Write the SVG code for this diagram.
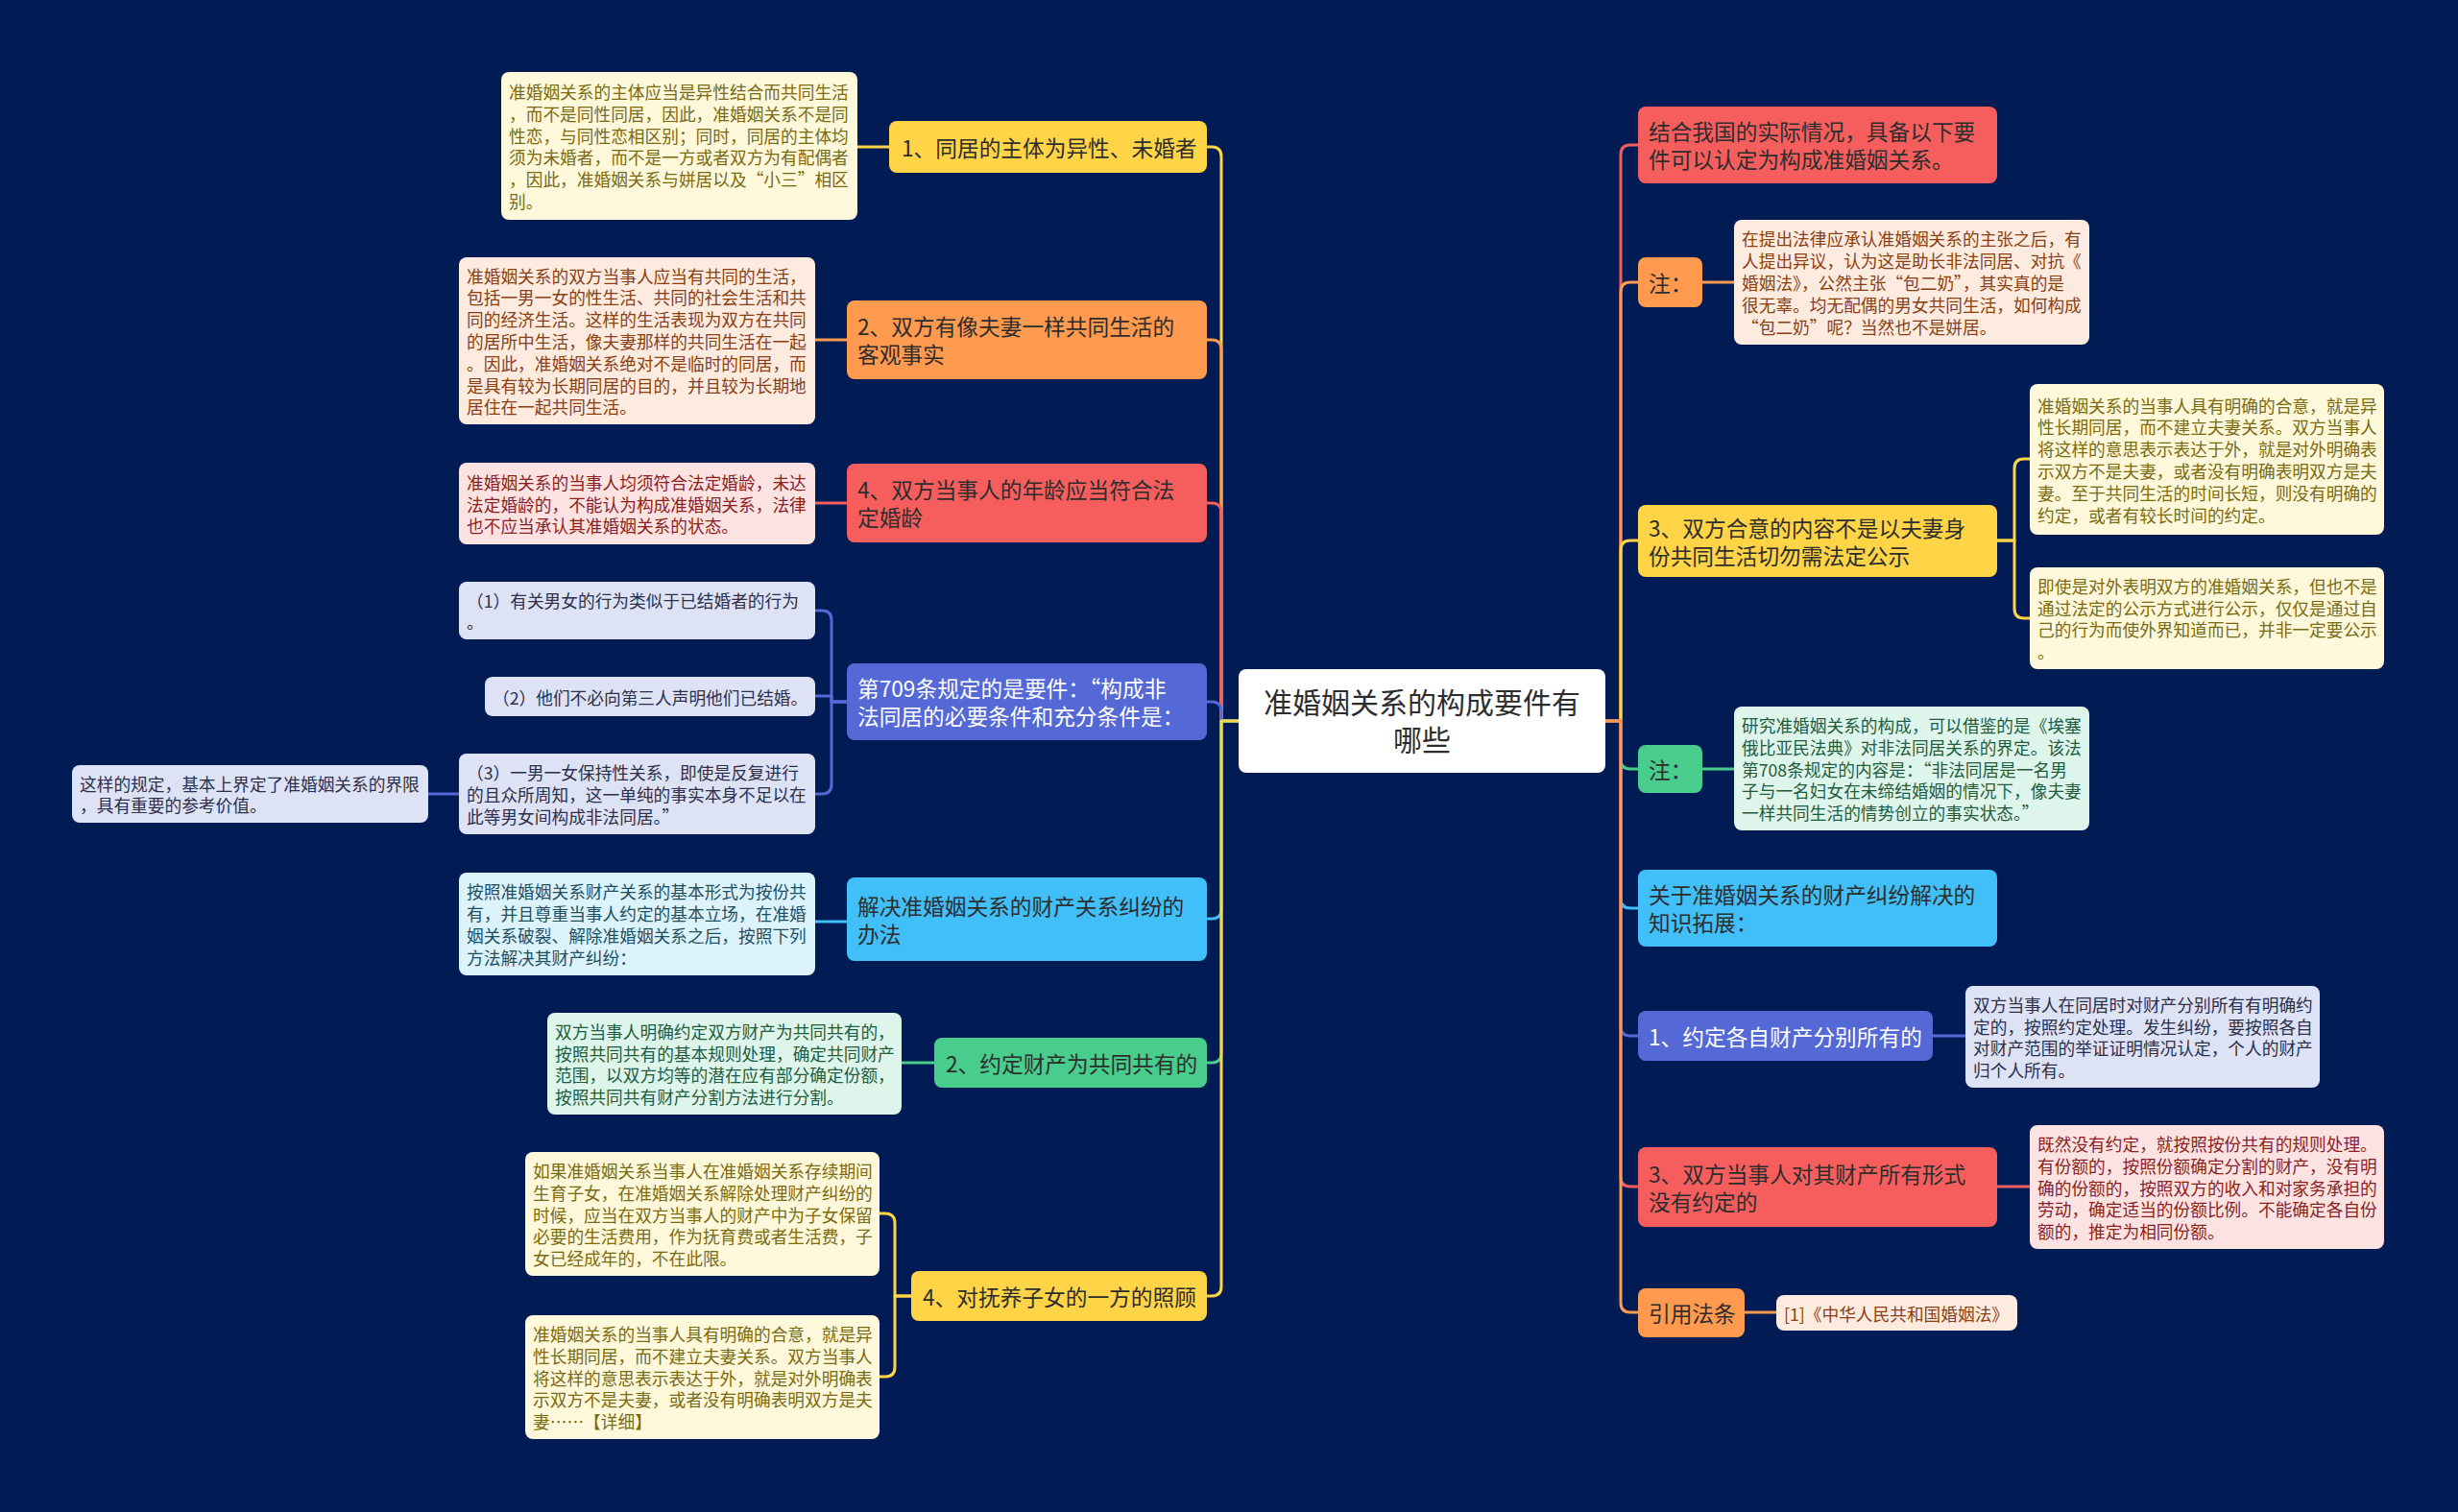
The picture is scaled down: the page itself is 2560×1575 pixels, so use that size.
<svg xmlns="http://www.w3.org/2000/svg" width="2560" height="1575" viewBox="0 0 2560 1575">
<style>
text{font-family:"Noto Sans CJK SC","Noto Sans",sans-serif;dominant-baseline:central}
.m{font-size:22.7px;fill:#2d2d2d}
.mw{font-size:22.7px;fill:#ffffff}
.d{font-size:17.7px}
.c{stroke-width:3;fill:none;stroke-linecap:round;stroke-linejoin:round}
.y{fill:#FFD447}.o{fill:#FF9A4E}.r{fill:#F65E5E}.b{fill:#5468D6}.cy{fill:#40BFF8}.g{fill:#48CD8C}
.dy{fill:#FFF8DA}.do{fill:#FDEBDF}.dr{fill:#FDE2E2}.db{fill:#DEE2F5}.dc{fill:#DCF3FC}.dg{fill:#DDF5EA}
.ty{fill:#7A6A10}.to{fill:#8A3E12}.tr{fill:#8B1E1E}.tb{fill:#2B2F4A}.tc{fill:#1D4F63}.tg{fill:#1F5C3E}
.sy{stroke:#FFD447}.so{stroke:#FF9A4E}.sr{stroke:#F65E5E}.sb{stroke:#5468D6}.sc{stroke:#40BFF8}.sg{stroke:#48CD8C}
</style>
<rect x="0" y="0" width="2560" height="1575" fill="#011B55"/>
<g id="connectors">
<path class="c sy" d="M1290 751 H1272 V163 Q1272 153 1262 153 H1257"/>
<path class="c so" d="M1290 751 H1272 V364 Q1272 354 1262 354 H1257"/>
<path class="c sr" d="M1290 751 H1272 V534 Q1272 524 1262 524 H1257"/>
<path class="c sb" d="M1290 751 H1272 V741 Q1272 731 1262 731 H1257"/>
<path class="c sc" d="M1290 751 H1272 V947 Q1272 957 1262 957 H1257"/>
<path class="c sg" d="M1290 751 H1272 V1097 Q1272 1107 1262 1107 H1257"/>
<path class="c sy" d="M1290 751 H1272 V1340 Q1272 1350 1262 1350 H1257"/>
<path class="c sr" d="M1672 751 H1688 V161 Q1688 151 1698 151 H1706"/>
<path class="c so" d="M1672 751 H1688 V304 Q1688 294 1698 294 H1706"/>
<path class="c sy" d="M1672 751 H1688 V573 Q1688 563 1698 563 H1706"/>
<path class="c sg" d="M1672 751 H1688 V791 Q1688 801 1698 801 H1706"/>
<path class="c sc" d="M1672 751 H1688 V936 Q1688 946 1698 946 H1706"/>
<path class="c sb" d="M1672 751 H1688 V1069 Q1688 1079 1698 1079 H1706"/>
<path class="c sr" d="M1672 751 H1688 V1226 Q1688 1236 1698 1236 H1706"/>
<path class="c so" d="M1672 751 H1688 V1357 Q1688 1367 1698 1367 H1706"/>
<path class="c sy" d="M926 153 H893"/>
<path class="c so" d="M882 354 H849"/>
<path class="c sr" d="M882 524 H849"/>
<path class="c sb" d="M882 731 H866 V646 Q866 636 856 636 H849"/>
<path class="c sb" d="M882 731 H866 V725 H849"/>
<path class="c sb" d="M882 731 H866 V817 Q866 827 856 827 H849"/>
<path class="c sb" d="M478 827 H446"/>
<path class="c sc" d="M882 960 H849"/>
<path class="c sg" d="M973 1107 H939"/>
<path class="c sy" d="M949 1350 H932 V1274 Q932 1264 922 1264 H916"/>
<path class="c sy" d="M949 1350 H932 V1424 Q932 1434 922 1434 H916"/>
<path class="c so" d="M1773 294 H1806"/>
<path class="c sy" d="M2080 563 H2098 V488 Q2098 478 2108 478 H2114"/>
<path class="c sy" d="M2080 563 H2098 V634 Q2098 644 2108 644 H2114"/>
<path class="c sg" d="M1773 801 H1806"/>
<path class="c sb" d="M2013 1079 H2047"/>
<path class="c sr" d="M2080 1236 H2114"/>
<path class="c so" d="M1817 1367 H1850"/>
</g>
<g id="center">
<rect x="1290" y="697" width="382" height="108" rx="8" fill="#ffffff"/>
<text x="1481" y="730" font-size="30" fill="#2d2d2d" text-anchor="middle">准婚姻关系的构成要件有</text>
<text x="1481" y="769" font-size="30" fill="#2d2d2d" text-anchor="middle">哪些</text>
</g>
<g id="n1"><rect class="y" x="926" y="126" width="331" height="54" rx="8"/><text class="m" x="939" y="153">1、同居的主体为异性、未婚者</text></g>
<g id="d1"><rect class="dy" x="522" y="75" width="371" height="154" rx="8"/>
<text class="d ty" x="530" y="95">准婚姻关系的主体应当是异性结合而共同生活</text>
<text class="d ty" x="530" y="117.8">，而不是同性同居，因此，准婚姻关系不是同</text>
<text class="d ty" x="530" y="140.6">性恋，与同性恋相区别；同时，同居的主体均</text>
<text class="d ty" x="530" y="163.4">须为未婚者，而不是一方或者双方为有配偶者</text>
<text class="d ty" x="530" y="186.2">，因此，准婚姻关系与姘居以及“小三”相区</text>
<text class="d ty" x="530" y="209">别。</text></g>
<g id="n2"><rect class="o" x="882" y="313" width="375" height="82" rx="8"/><text class="m" x="893" y="339.5">2、双方有像夫妻一样共同生活的</text><text class="m" x="893" y="368.5">客观事实</text></g>
<g id="d2"><rect class="do" x="478" y="268" width="371" height="174" rx="8"/>
<text class="d to" x="486" y="286.6">准婚姻关系的双方当事人应当有共同的生活，</text>
<text class="d to" x="486" y="309.4">包括一男一女的性生活、共同的社会生活和共</text>
<text class="d to" x="486" y="332.2">同的经济生活。这样的生活表现为双方在共同</text>
<text class="d to" x="486" y="355">的居所中生活，像夫妻那样的共同生活在一起</text>
<text class="d to" x="486" y="377.8">。因此，准婚姻关系绝对不是临时的同居，而</text>
<text class="d to" x="486" y="400.6">是具有较为长期同居的目的，并且较为长期地</text>
<text class="d to" x="486" y="423.4">居住在一起共同生活。</text></g>
<g id="n4"><rect class="r" x="882" y="483" width="375" height="82" rx="8"/><text class="m" x="893" y="509.5">4、双方当事人的年龄应当符合法</text><text class="m" x="893" y="538.5">定婚龄</text></g>
<g id="d3"><rect class="dr" x="478" y="482" width="371" height="85" rx="8"/>
<text class="d tr" x="486" y="501.7">准婚姻关系的当事人均须符合法定婚龄，未达</text>
<text class="d tr" x="486" y="524.5">法定婚龄的，不能认为构成准婚姻关系，法律</text>
<text class="d tr" x="486" y="547.3">也不应当承认其准婚姻关系的状态。</text></g>
<g id="n709"><rect class="b" x="882" y="691" width="375" height="80" rx="8"/><text class="mw" x="893" y="716.5">第709条规定的是要件：“构成非</text><text class="mw" x="893" y="745.5">法同居的必要条件和充分条件是：</text></g>
<g id="s1"><rect class="db" x="478" y="606" width="371" height="60" rx="8"/>
<text class="d tb" x="486" y="624.6">（1）有关男女的行为类似于已结婚者的行为</text>
<text class="d tb" x="486" y="647.4">。</text></g>
<g id="s2"><rect class="db" x="505" y="705" width="344" height="41" rx="8"/>
<text class="d tb" x="513" y="725.5">（2）他们不必向第三人声明他们已结婚。</text></g>
<g id="s3"><rect class="db" x="478" y="785" width="371" height="84" rx="8"/>
<text class="d tb" x="486" y="804.2">（3）一男一女保持性关系，即使是反复进行</text>
<text class="d tb" x="486" y="827">的且众所周知，这一单纯的事实本身不足以在</text>
<text class="d tb" x="486" y="849.8">此等男女间构成非法同居。”</text></g>
<g id="s3a"><rect class="db" x="75" y="797" width="371" height="60" rx="8"/>
<text class="d tb" x="83" y="815.6">这样的规定，基本上界定了准婚姻关系的界限</text>
<text class="d tb" x="83" y="838.4">，具有重要的参考价值。</text></g>
<g id="ncy"><rect class="cy" x="882" y="914" width="375" height="87" rx="8"/><text class="m" x="893" y="943">解决准婚姻关系的财产关系纠纷的</text><text class="m" x="893" y="972">办法</text></g>
<g id="dcy"><rect class="dc" x="478" y="909" width="371" height="107" rx="8"/>
<text class="d tc" x="486" y="928.3">按照准婚姻关系财产关系的基本形式为按份共</text>
<text class="d tc" x="486" y="951.1">有，并且尊重当事人约定的基本立场，在准婚</text>
<text class="d tc" x="486" y="973.9">姻关系破裂、解除准婚姻关系之后，按照下列</text>
<text class="d tc" x="486" y="996.7">方法解决其财产纠纷：</text></g>
<g id="ng"><rect class="g" x="973" y="1081" width="284" height="52" rx="8"/><text class="m" x="985" y="1107">2、约定财产为共同共有的</text></g>
<g id="dg"><rect class="dg" x="570" y="1055" width="369" height="106" rx="8"/>
<text class="d tg" x="578" y="1073.8">双方当事人明确约定双方财产为共同共有的，</text>
<text class="d tg" x="578" y="1096.6">按照共同共有的基本规则处理，确定共同财产</text>
<text class="d tg" x="578" y="1119.4">范围，以双方均等的潜在应有部分确定份额，</text>
<text class="d tg" x="578" y="1142.2">按照共同共有财产分割方法进行分割。</text></g>
<g id="ny4"><rect class="y" x="949" y="1324" width="308" height="52" rx="8"/><text class="m" x="961" y="1350">4、对抚养子女的一方的照顾</text></g>
<g id="d4a"><rect class="dy" x="547" y="1200" width="369" height="129" rx="8"/>
<text class="d ty" x="555" y="1218.9">如果准婚姻关系当事人在准婚姻关系存续期间</text>
<text class="d ty" x="555" y="1241.7">生育子女，在准婚姻关系解除处理财产纠纷的</text>
<text class="d ty" x="555" y="1264.5">时候，应当在双方当事人的财产中为子女保留</text>
<text class="d ty" x="555" y="1287.3">必要的生活费用，作为抚育费或者生活费，子</text>
<text class="d ty" x="555" y="1310.1">女已经成年的，不在此限。</text></g>
<g id="d4b"><rect class="dy" x="547" y="1370" width="369" height="129" rx="8"/>
<text class="d ty" x="555" y="1388.9">准婚姻关系的当事人具有明确的合意，就是异</text>
<text class="d ty" x="555" y="1411.7">性长期同居，而不建立夫妻关系。双方当事人</text>
<text class="d ty" x="555" y="1434.5">将这样的意思表示表达于外，就是对外明确表</text>
<text class="d ty" x="555" y="1457.3">示双方不是夫妻，或者没有明确表明双方是夫</text>
<text class="d ty" x="555" y="1480.1">妻……【详细】</text></g>
<g id="rn1"><rect class="r" x="1706" y="111" width="374" height="80" rx="8"/><text class="m" x="1717" y="136.5">结合我国的实际情况，具备以下要</text><text class="m" x="1717" y="165.5">件可以认定为构成准婚姻关系。</text></g>
<g id="rnote1"><rect class="o" x="1706" y="268" width="67" height="52" rx="8"/><text class="m" x="1717" y="294">注：</text></g>
<g id="rd1"><rect class="do" x="1806" y="229" width="370" height="130" rx="8"/>
<text class="d to" x="1814" y="248.4">在提出法律应承认准婚姻关系的主张之后，有</text>
<text class="d to" x="1814" y="271.2">人提出异议，认为这是助长非法同居、对抗《</text>
<text class="d to" x="1814" y="294">婚姻法》，公然主张“包二奶”，其实真的是</text>
<text class="d to" x="1814" y="316.8">很无辜。均无配偶的男女共同生活，如何构成</text>
<text class="d to" x="1814" y="339.6">“包二奶”呢？当然也不是姘居。</text></g>
<g id="rn3"><rect class="y" x="1706" y="526" width="374" height="75" rx="8"/><text class="m" x="1717" y="549">3、双方合意的内容不是以夫妻身</text><text class="m" x="1717" y="578">份共同生活切勿需法定公示</text></g>
<g id="rd3a"><rect class="dy" x="2114" y="400" width="369" height="157" rx="8"/>
<text class="d ty" x="2122" y="421.5">准婚姻关系的当事人具有明确的合意，就是异</text>
<text class="d ty" x="2122" y="444.3">性长期同居，而不建立夫妻关系。双方当事人</text>
<text class="d ty" x="2122" y="467.1">将这样的意思表示表达于外，就是对外明确表</text>
<text class="d ty" x="2122" y="489.9">示双方不是夫妻，或者没有明确表明双方是夫</text>
<text class="d ty" x="2122" y="512.7">妻。至于共同生活的时间长短，则没有明确的</text>
<text class="d ty" x="2122" y="535.5">约定，或者有较长时间的约定。</text></g>
<g id="rd3b"><rect class="dy" x="2114" y="591" width="369" height="106" rx="8"/>
<text class="d ty" x="2122" y="609.8">即使是对外表明双方的准婚姻关系，但也不是</text>
<text class="d ty" x="2122" y="632.6">通过法定的公示方式进行公示，仅仅是通过自</text>
<text class="d ty" x="2122" y="655.4">己的行为而使外界知道而已，并非一定要公示</text>
<text class="d ty" x="2122" y="678.2">。</text></g>
<g id="rnote2"><rect class="g" x="1706" y="776" width="67" height="50" rx="8"/><text class="m" x="1717" y="801">注：</text></g>
<g id="rd2"><rect class="dg" x="1806" y="736" width="370" height="129" rx="8"/>
<text class="d tg" x="1814" y="754.9">研究准婚姻关系的构成，可以借鉴的是《埃塞</text>
<text class="d tg" x="1814" y="777.7">俄比亚民法典》对非法同居关系的界定。该法</text>
<text class="d tg" x="1814" y="800.5">第708条规定的内容是：“非法同居是一名男</text>
<text class="d tg" x="1814" y="823.3">子与一名妇女在未缔结婚姻的情况下，像夫妻</text>
<text class="d tg" x="1814" y="846.1">一样共同生活的情势创立的事实状态。”</text></g>
<g id="rcy"><rect class="cy" x="1706" y="906" width="374" height="80" rx="8"/><text class="m" x="1717" y="931.5">关于准婚姻关系的财产纠纷解决的</text><text class="m" x="1717" y="960.5">知识拓展：</text></g>
<g id="rb1"><rect class="b" x="1706" y="1053" width="307" height="52" rx="8"/><text class="mw" x="1717" y="1079">1、约定各自财产分别所有的</text></g>
<g id="rdb1"><rect class="db" x="2047" y="1027" width="369" height="106" rx="8"/>
<text class="d tb" x="2055" y="1045.8">双方当事人在同居时对财产分别所有有明确约</text>
<text class="d tb" x="2055" y="1068.6">定的，按照约定处理。发生纠纷，要按照各自</text>
<text class="d tb" x="2055" y="1091.4">对财产范围的举证证明情况认定，个人的财产</text>
<text class="d tb" x="2055" y="1114.2">归个人所有。</text></g>
<g id="rr3"><rect class="r" x="1706" y="1195" width="374" height="83" rx="8"/><text class="m" x="1717" y="1222">3、双方当事人对其财产所有形式</text><text class="m" x="1717" y="1251">没有约定的</text></g>
<g id="rdr3"><rect class="dr" x="2114" y="1172" width="369" height="129" rx="8"/>
<text class="d tr" x="2122" y="1190.9">既然没有约定，就按照按份共有的规则处理。</text>
<text class="d tr" x="2122" y="1213.7">有份额的，按照份额确定分割的财产，没有明</text>
<text class="d tr" x="2122" y="1236.5">确的份额的，按照双方的收入和对家务承担的</text>
<text class="d tr" x="2122" y="1259.3">劳动，确定适当的份额比例。不能确定各自份</text>
<text class="d tr" x="2122" y="1282.1">额的，推定为相同份额。</text></g>
<g id="rref"><rect class="o" x="1706" y="1342" width="111" height="51" rx="8"/><text class="m" x="1717" y="1367.5">引用法条</text></g>
<g id="rdref"><rect class="do" x="1850" y="1349" width="251" height="37" rx="8"/>
<text class="d to" x="1858" y="1367.5">[1]《中华人民共和国婚姻法》</text></g>
</svg>
